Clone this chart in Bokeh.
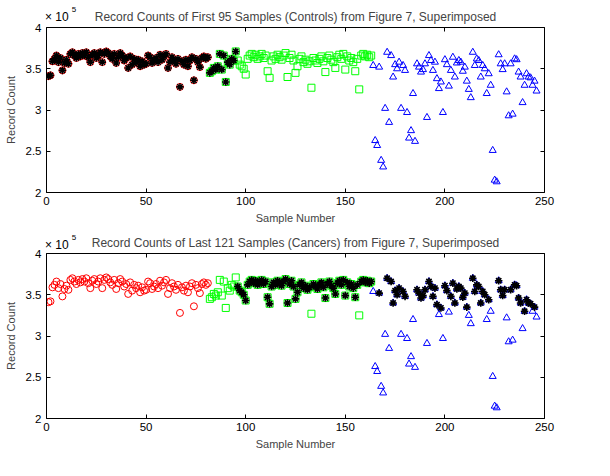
from bokeh.plotting import figure
from bokeh.models import Range1d, FixedTicker, LinearAxis, Div
from bokeh.layouts import column
from bokeh.embed import file_html
from bokeh.resources import INLINE

# Record counts in units of 10^5
red_x = list(range(1, 82))
red_y = [3.41, 3.42, 3.59, 3.62, 3.66, 3.58, 3.63, 3.48, 3.57, 3.61,
         3.56, 3.68, 3.70, 3.66, 3.63, 3.68, 3.65, 3.69, 3.66, 3.70,
         3.64, 3.58, 3.67, 3.69, 3.63, 3.66, 3.70, 3.58, 3.68, 3.71,
         3.69, 3.65, 3.62, 3.68, 3.57, 3.64, 3.69, 3.66, 3.60, 3.63,
         3.51, 3.65, 3.55, 3.62, 3.58, 3.61, 3.53, 3.59, 3.55, 3.56,
         3.66, 3.64, 3.57, 3.60, 3.63, 3.58, 3.67, 3.61, 3.65, 3.68,
         3.51, 3.58, 3.64, 3.60, 3.56, 3.62, 3.28, 3.59, 3.55, 3.61,
         3.53, 3.60, 3.64, 3.36, 3.62, 3.58, 3.52, 3.63, 3.65, 3.62, 3.64]

green_x = list(range(82, 164))
green_y = [3.45, 3.47, 3.51, 3.49, 3.53, 3.68, 3.49, 3.66, 3.34, 3.58,
           3.55, 3.62, 3.60, 3.71, 3.60, 3.55, 3.53, 3.50, 3.43, 3.62,
           3.66, 3.68, 3.64, 3.67, 3.62, 3.65, 3.68, 3.63, 3.66, 3.47,
           3.39, 3.60, 3.65, 3.62, 3.67, 3.64, 3.61, 3.66, 3.69, 3.40,
           3.63, 3.67, 3.60, 3.45, 3.53, 3.62, 3.65, 3.58, 3.61, 3.56,
           3.59, 3.27, 3.63, 3.60, 3.57, 3.62, 3.65, 3.59, 3.46, 3.63,
           3.66, 3.61, 3.58, 3.51, 3.64, 3.67, 3.62, 3.68, 3.49, 3.65,
           3.60, 3.63, 3.58, 3.47, 3.62, 3.25, 3.66, 3.68, 3.65, 3.67,
           3.64, 3.66]

blue_x = list(range(164, 247))
blue_y = [3.54, 2.63, 2.57, 3.52, 2.39, 2.31, 3.02, 3.70, 2.85, 3.66,
          3.40, 3.55, 3.50, 3.58, 3.02, 3.54, 3.48, 2.97, 2.66, 2.75,
          3.20, 2.62, 3.56, 3.52, 3.46, 3.49, 3.56, 2.91, 3.66, 3.60,
          3.48, 3.58, 3.38, 3.26, 3.34, 2.97, 3.61, 3.55, 3.29, 3.48,
          3.64, 3.40, 3.57, 3.60, 3.58, 3.47, 3.52, 3.35, 3.25, 3.15,
          3.70, 3.54, 3.62, 3.60, 3.40, 3.54, 3.50, 3.20, 3.44, 3.30,
          2.51, 2.15, 2.13, 3.67, 3.56, 3.49, 3.56, 3.22, 2.93, 3.56,
          2.95, 3.62, 3.61, 3.46, 3.40, 3.09, 3.30, 3.44, 3.40, 3.39,
          3.30, 3.35, 3.23]

# Samples covered by the superimposed Figure 7 record counts (asterisks)
top_star_first, top_star_last = 1, 95
bottom_star_first, bottom_star_last = 96, 246
bottom_star_missing = [133, 157, 164, 165, 166, 168, 169, 170, 172, 178, 181, 182,
                       183, 184, 185, 191, 197, 199, 202, 212, 213, 221, 223,
                       224, 225, 226, 231, 232, 234, 239, 244, 246]

x_ticks = [0, 50, 100, 150, 200, 250]
y_ticks = [2, 2.5, 3, 3.5, 4]
y_tick_labels = {2: "2", 2.5: "2.5", 3: "3", 3.5: "3.5", 4: "4"}
y_scale_text = "× 10"
y_scale_exp = "5"

titles = ["Record Counts of First 95 Samples (Controls) from Figure 7, Superimposed",
          "Record Counts of Last 121 Samples (Cancers) from Figure 7, Superimposed"]

lookup = dict(zip(red_x + green_x + blue_x, red_y + green_y + blue_y))
top_sx = [s for s in range(top_star_first, top_star_last + 1)]
bot_sx = [s for s in range(bottom_star_first, bottom_star_last + 1) if s not in bottom_star_missing]
star_sets = [top_sx, bot_sx]

FONT = "Liberation Sans"


def make_panel(title, star_x, height, top_border, bottom_border):
    p = figure(width=602, height=height, x_range=Range1d(0, 250), y_range=Range1d(2, 4),
               output_backend="svg", toolbar_location=None,
               min_border_left=46, min_border_right=58, min_border_top=top_border,
               min_border_bottom=bottom_border, title=title)
    p.title.text_font = FONT
    p.title.text_font_size = "12px"
    p.title.text_font_style = "normal"
    p.title.align = "center"
    p.title.standoff = 8
    p.grid.visible = False
    p.outline_line_color = None
    p.background_fill_color = "white"
    p.border_fill_color = "white"

    p.xaxis.ticker = FixedTicker(ticks=x_ticks)
    p.yaxis.ticker = FixedTicker(ticks=y_ticks)
    p.yaxis.major_label_overrides = y_tick_labels
    for ax in p.xaxis + p.yaxis:
        ax.axis_line_color = "black"
        ax.major_tick_line_color = "black"
        ax.major_tick_in = 4
        ax.major_tick_out = 0
        ax.minor_tick_line_color = None
        ax.major_label_text_font = FONT
        ax.major_label_text_font_size = "11.5px"
        ax.major_label_text_color = "black"
        ax.axis_label_text_font = FONT
        ax.axis_label_text_font_size = "11px"
        ax.axis_label_text_font_style = "normal"
    p.xaxis.axis_label = "Sample Number"
    p.yaxis.axis_label = "Record Count"
    p.xaxis.major_label_standoff = 4
    p.xaxis.axis_label_standoff = 4
    p.yaxis.major_label_standoff = 5
    p.yaxis.axis_label_standoff = 6

    top = LinearAxis(ticker=FixedTicker(ticks=x_ticks))
    right = LinearAxis(ticker=FixedTicker(ticks=y_ticks))
    for ax in (top, right):
        ax.axis_line_color = "black"
        ax.major_tick_line_color = "black"
        ax.major_tick_in = 4
        ax.major_tick_out = 0
        ax.minor_tick_line_color = None
        ax.major_label_text_color = None
        ax.major_label_text_font_size = "1px"
        ax.major_label_standoff = 0
    p.add_layout(top, "above")
    p.add_layout(right, "right")

    p.scatter(red_x, red_y, marker="circle", size=7, fill_color=None, line_color="#ff0000", line_width=1)
    p.scatter(green_x, green_y, marker="square", size=7, fill_color=None, line_color="#00ff00", line_width=1)
    p.scatter(blue_x, blue_y, marker="triangle", size=7, fill_color=None, line_color="#0000ff", line_width=1)
    p.scatter(star_x, [lookup[s] for s in star_x], marker="asterisk", size=7.5,
              line_color="black", line_width=1.6)
    return p


def scale_note(top_px):
    return ('<div style="position:absolute; left:45px; top:%dpx; font-family:\'Liberation Sans\'; '
            'font-size:12px; line-height:14px; color:black; white-space:nowrap; z-index:10;">%s'
            '<span style="font-size:8px; position:relative; top:-9px; margin-left:3px;">%s</span></div>'
            % (top_px, y_scale_text, y_scale_exp))


p1 = make_panel(titles[0], star_sets[0], 228, 27, 36)
p2 = make_panel(titles[1], star_sets[1], 230, 25, 40)

notes = Div(text=scale_note(10) + scale_note(238), width=100, height=0, margin=0,
            styles={"position": "relative", "z-index": "10", "overflow": "visible"})
layout = column(notes, p1, p2, spacing=0)

open("out.html", "w").write(file_html(layout, INLINE))
